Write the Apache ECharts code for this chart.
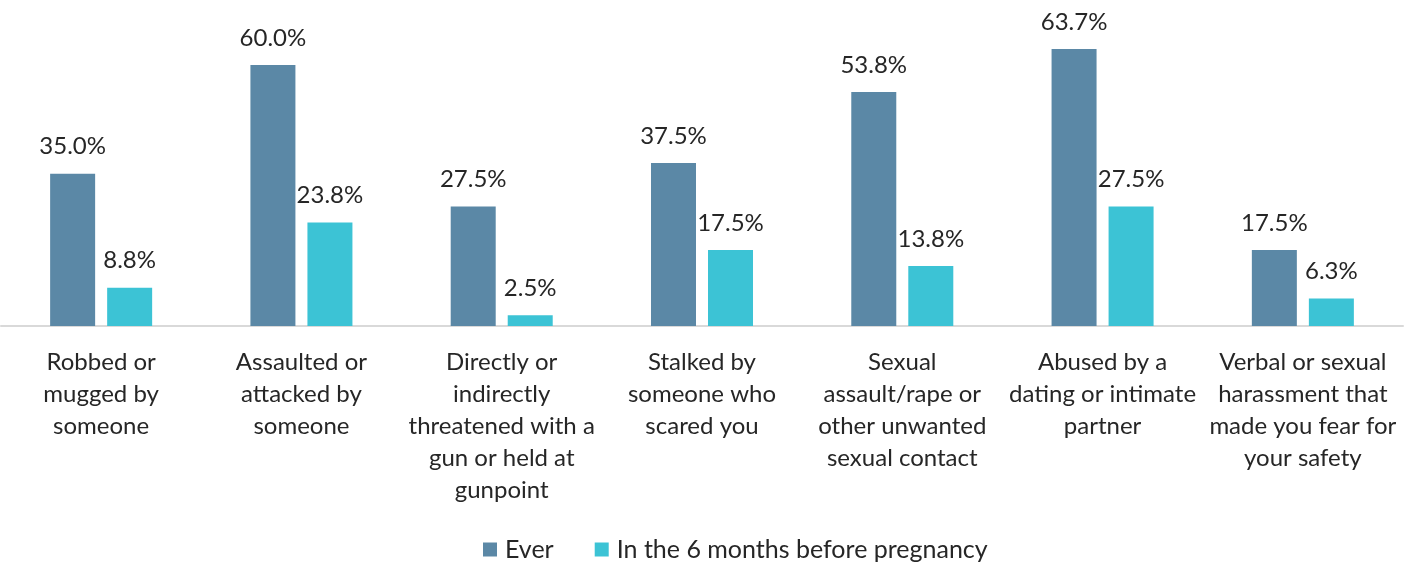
<!DOCTYPE html>
<html>
<head>
<meta charset="utf-8">
<script src="https://cdn.jsdelivr.net/npm/echarts@6/dist/echarts.min.js"></script>
<style>
  html, body { margin: 0; padding: 0; background: #fff; }
  #chart { width: 1418px; height: 567px; }
</style>
</head>
<body>
<div id="chart"></div>
<script>
// Experiences of violence, ever vs. in the 6 months before pregnancy (%)
const categories = [
  'Robbed or\nmugged by\nsomeone',
  'Assaulted or\nattacked by\nsomeone',
  'Directly or\nindirectly\nthreatened with a\ngun or held at\ngunpoint',
  'Stalked by\nsomeone who\nscared you',
  'Sexual\nassault/rape or\nother unwanted\nsexual contact',
  'Abused by a\ndating or intimate\npartner',
  'Verbal or sexual\nharassment that\nmade you fear for\nyour safety'
];
const seriesNames = ['Ever', 'In the 6 months before pregnancy'];
const everValues = [35.0, 60.0, 27.5, 37.5, 53.8, 63.7, 17.5];
const recentValues = [8.8, 23.8, 2.5, 17.5, 13.8, 27.5, 6.3];

const FONT = 'Lato';
const TEXT = '#262626';

const chart = echarts.init(document.getElementById('chart'), null, { renderer: 'canvas' });

const labelStyle = {
  show: true,
  position: 'top',
  distance: 15,
  formatter: p => p.value.toFixed(1) + '%',
  fontFamily: FONT,
  fontSize: 24,
  color: TEXT
};

chart.setOption({
  animation: false,
  grid: { left: 1, right: 15, top: 21.5, bottom: 241, containLabel: false },
  legend: {
    top: 537,
    left: 483,
    padding: 0,
    itemWidth: 14,
    itemHeight: 14,
    itemGap: 41,
    icon: 'rect',
    textStyle: { fontFamily: FONT, fontSize: 25, color: TEXT, padding: [0, 0, 0, 3] },
    data: seriesNames
  },
  xAxis: {
    type: 'category',
    data: categories,
    axisLine: { lineStyle: { color: '#D9D9D9', width: 2 } },
    axisTick: { show: false },
    axisLabel: {
      interval: 0,
      margin: 20,
      lineHeight: 32,
      fontFamily: FONT,
      fontSize: 24,
      color: TEXT
    }
  },
  yAxis: {
    type: 'value',
    min: 0,
    max: 70,
    show: false,
    splitLine: { show: false }
  },
  series: [
    {
      name: seriesNames[0],
      type: 'bar',
      data: everValues,
      barWidth: 45,
      barGap: '26.7%',
      itemStyle: { color: '#5B88A6' },
      label: labelStyle
    },
    {
      name: seriesNames[1],
      type: 'bar',
      data: recentValues,
      barWidth: 45,
      itemStyle: { color: '#3CC3D5' },
      label: labelStyle
    }
  ]
});
</script>
</body>
</html>
